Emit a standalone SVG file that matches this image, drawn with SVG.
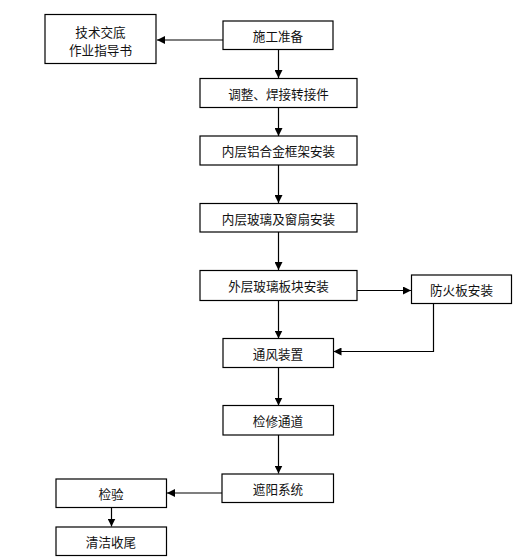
<svg xmlns="http://www.w3.org/2000/svg" width="521" height="560" viewBox="0 0 521 560">
<style>
.box{fill:#fff;stroke:#000;stroke-width:1.2}
.t{font-family:"Noto Sans CJK SC","Liberation Sans",sans-serif;font-size:12.6px;fill:#111;text-anchor:middle;dominant-baseline:central}
.c{fill:none;stroke:#000;stroke-width:1.2}
</style>
<defs>
<marker id="ar" viewBox="0 0 10 10" refX="10" refY="5" markerWidth="8" markerHeight="8" markerUnits="userSpaceOnUse" orient="auto">
<path d="M0,0L10,5L0,10z" fill="#000"/>
</marker>
</defs>
<rect width="521" height="560" fill="#fff"/>
<g id="connectors">
<line class="c" x1="223" y1="40" x2="157" y2="40" marker-end="url(#ar)"/>
<line class="c" x1="278.5" y1="49.5" x2="278.5" y2="78" marker-end="url(#ar)"/>
<line class="c" x1="278.5" y1="107.5" x2="278.5" y2="136" marker-end="url(#ar)"/>
<line class="c" x1="278.5" y1="165" x2="278.5" y2="203" marker-end="url(#ar)"/>
<line class="c" x1="278.5" y1="232" x2="278.5" y2="270" marker-end="url(#ar)"/>
<line class="c" x1="357" y1="290.5" x2="411" y2="290.5" marker-end="url(#ar)"/>
<line class="c" x1="278.5" y1="300.5" x2="278.5" y2="338.5" marker-end="url(#ar)"/>
<polyline class="c" points="433.5,303.5 433.5,351.5 333.5,351.5" marker-end="url(#ar)"/>
<line class="c" x1="278.5" y1="367.5" x2="278.5" y2="405.5" marker-end="url(#ar)"/>
<line class="c" x1="278.5" y1="435" x2="278.5" y2="473.5" marker-end="url(#ar)"/>
<line class="c" x1="222" y1="493" x2="167" y2="493" marker-end="url(#ar)"/>
<line class="c" x1="111.5" y1="508" x2="111.5" y2="526.5" marker-end="url(#ar)"/>
</g>
<g id="n1"><rect class="box" x="45" y="14.5" width="111" height="49"/><text class="t" x="100.5" y="31">技术交底</text><text class="t" x="100.5" y="49">作业指导书</text></g>
<g id="n2"><rect class="box" x="223" y="21" width="110" height="28.5"/><text class="t" x="278" y="35">施工准备</text></g>
<g id="n3"><rect class="box" x="200" y="78.5" width="157" height="29"/><text class="t" x="278.5" y="93">调整、焊接转接件</text></g>
<g id="n4"><rect class="box" x="200" y="136" width="157" height="29"/><text class="t" x="278.5" y="150.5">内层铝合金框架安装</text></g>
<g id="n5"><rect class="box" x="200" y="203.5" width="157" height="28.5"/><text class="t" x="278.5" y="218">内层玻璃及窗扇安装</text></g>
<g id="n6"><rect class="box" x="200" y="270.5" width="157" height="30"/><text class="t" x="278.5" y="285.5">外层玻璃板块安装</text></g>
<g id="n7"><rect class="box" x="411.5" y="275" width="100" height="28.5"/><text class="t" x="461.5" y="289">防火板安装</text></g>
<g id="n8"><rect class="box" x="223" y="338.5" width="110.5" height="29"/><text class="t" x="278" y="353">通风装置</text></g>
<g id="n9"><rect class="box" x="223" y="405.5" width="110.5" height="29.5"/><text class="t" x="278" y="420">检修通道</text></g>
<g id="n10"><rect class="box" x="222" y="474" width="111.5" height="28.5"/><text class="t" x="278" y="488">遮阳系统</text></g>
<g id="n11"><rect class="box" x="56" y="479" width="110.5" height="28.5"/><text class="t" x="111" y="493">检验</text></g>
<g id="n12"><rect class="box" x="56" y="527" width="110.5" height="28.5"/><text class="t" x="111" y="541">清洁收尾</text></g>
</svg>
